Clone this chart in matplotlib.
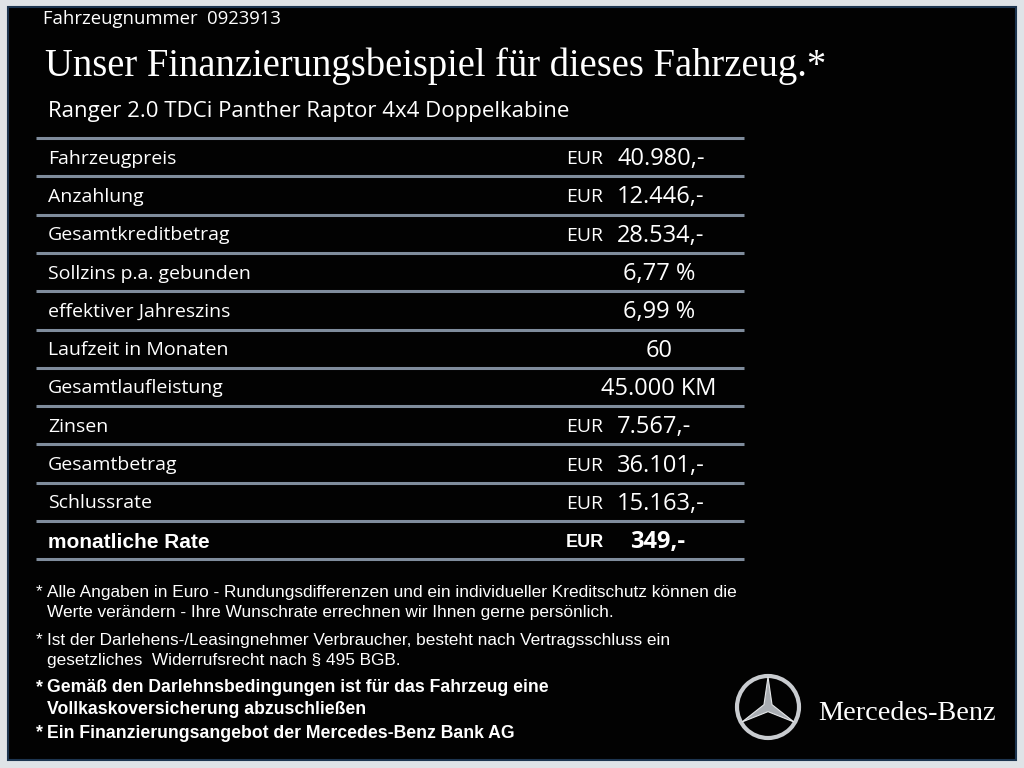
import numpy as np
import matplotlib.pyplot as plt
from matplotlib.patches import Rectangle, Circle, Polygon

vehicle_no = "0923913"
title = "Unser Finanzierungsbeispiel für dieses Fahrzeug.*"
model_name = "Ranger 2.0 TDCi Panther Raptor 4x4 Doppelkabine"

labels = ["Fahrzeugpreis", "Anzahlung", "Gesamtkreditbetrag", "Sollzins p.a. gebunden",
          "effektiver Jahreszins", "Laufzeit in Monaten", "Gesamtlaufleistung", "Zinsen",
          "Gesamtbetrag", "Schlussrate", "monatliche Rate"]
units = ["EUR", "EUR", "EUR", "", "", "", "", "EUR", "EUR", "EUR", "EUR"]
values = ["40.980,-", "12.446,-", "28.534,-", "6,77 %", "6,99 %", "60", "45.000 KM",
          "7.567,-", "36.101,-", "15.163,-", "349,-"]

notes = [
    ("Alle Angaben in Euro - Rundungsdifferenzen und ein individueller Kreditschutz können die",
     "Werte verändern - Ihre Wunschrate errechnen wir Ihnen gerne persönlich.", "normal"),
    ("Ist der Darlehens-/Leasingnehmer Verbraucher, besteht nach Vertragsschluss ein",
     "gesetzliches  Widerrufsrecht nach § 495 BGB.", "normal"),
    ("Gemäß den Darlehnsbedingungen ist für das Fahrzeug eine",
     "Vollkaskoversicherung abzuschließen", "bold"),
    ("Ein Finanzierungsangebot der Mercedes-Benz Bank AG", None, "bold"),
]

sans = "Open Sans"
serif = "Liberation Serif"
arial = "Liberation Sans"

fig = plt.figure(figsize=(10.24, 7.68), dpi=100, facecolor="#dfe3e7")
ax = fig.add_axes([0, 0, 1, 1])
ax.set_xlim(0, 1024)
ax.set_ylim(768, 0)
ax.axis("off")

# black panel
ax.add_patch(Rectangle((8, 7), 1008, 753, facecolor="#020202", edgecolor="#1d3550", lw=1.5))

ax.text(43, 19, "Fahrzeugnummer  " + vehicle_no, color="white", fontsize=13.3,
        family=sans, va="center")
ax.text(45, 66, title, color="white", fontsize=27.8, family=serif, va="center")
ax.text(48, 111, model_name, color="white", fontsize=16, family=sans, va="center")

# table
top = 138
step = 38.3
for i in range(len(labels) + 1):
    y = top + i * step
    ax.plot([36, 744], [y, y], color="#7f8c9c", lw=2.2, solid_capstyle="butt")

for i, (lab, unit, val) in enumerate(zip(labels, units, values)):
    yc = top + (i + 0.5) * step
    bold = lab == "monatliche Rate"
    fw = "bold" if bold else "normal"
    if bold:
        ax.text(48, yc + 2, lab, color="white", fontsize=15, family=arial, weight=fw,
                va="center")
    else:
        ax.text(48, yc + 1.5, lab, color="white", fontsize=14, family=sans, va="center")
    if unit:
        ax.text(566, yc + 2, unit, color="white", fontsize=14 if not bold else 13,
                family=arial if bold else sans, weight=fw, va="center")
        if bold:
            ax.text(630, yc + 2, val, color="white", fontsize=17, family=sans,
                    weight=fw, va="center")
        else:
            ax.text(617, yc + 2, val, color="white", fontsize=17, family=sans,
                    va="center")
    else:
        ax.text(659, yc + 2, val, color="white", fontsize=17, family=sans,
                va="center", ha="center")

# footnotes
ny = [592, 640, 688, 733]
for (l1, l2, w), y in zip(notes, ny):
    fs = 12.7 if w == "bold" else 12.4
    ax.text(36, y, "*", color="white", fontsize=fs, family=arial, weight=w, va="center")
    ax.text(47, y, l1, color="white", fontsize=fs, family=arial, weight=w, va="center")
    if l2:
        ax.text(47, y + 21, l2, color="white", fontsize=fs, family=arial, weight=w,
                va="center")

# logo
cx, cy, r = 768, 707, 31
ax.add_patch(Circle((cx, cy), r, facecolor="none", edgecolor="#c9ccd0", lw=3))
pts = []
for k in range(6):
    ang = np.deg2rad(-90 + k * 60)
    rr = r - 1 if k % 2 == 0 else r * 0.15
    pts.append((cx + rr * np.cos(ang), cy + rr * np.sin(ang)))
ax.add_patch(Polygon(pts, closed=True, facecolor="#a9adb2", edgecolor="#e6e8ea", lw=0.8))
ax.text(818, 714, "Mercedes-Benz", color="white", fontsize=20.3, family=serif, va="center")

fig.savefig("out.png", dpi=100, facecolor=fig.get_facecolor())
